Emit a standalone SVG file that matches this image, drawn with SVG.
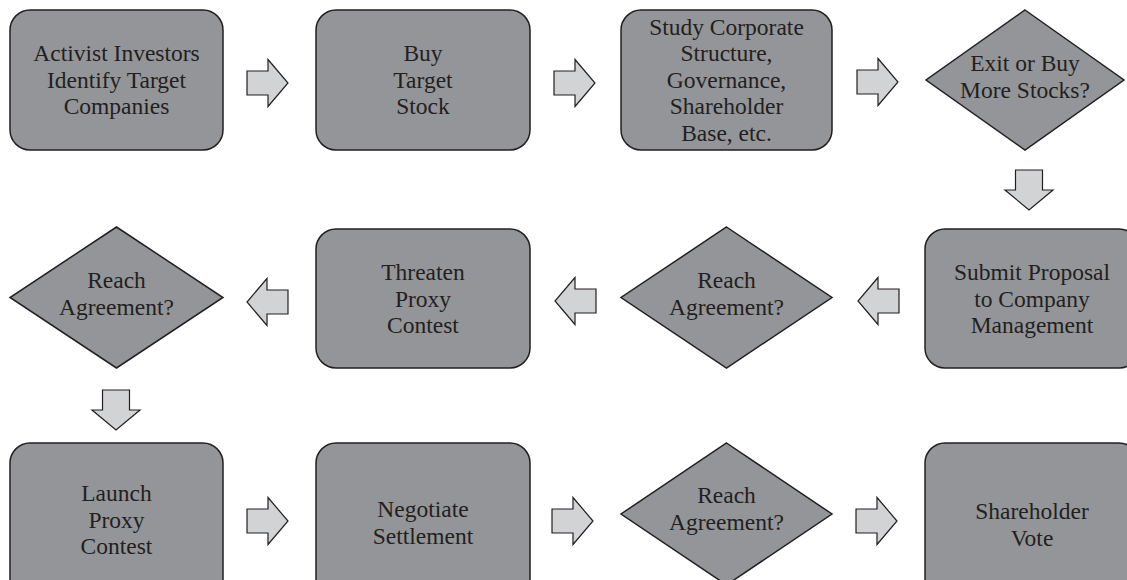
<svg xmlns="http://www.w3.org/2000/svg" width="1127" height="580" viewBox="0 0 1127 580">
<style>
.box{fill:#939598;stroke:#231f20;stroke-width:1.5}
.arr{fill:#d1d3d4;stroke:#231f20;stroke-width:1.2;stroke-linejoin:miter}
text{font-family:"Liberation Serif","Times New Roman",serif;font-size:23.5px;fill:#231f20;text-anchor:middle}
</style>
<defs>
<path id="arrowR" d="M0,-12 H21 V-23.5 L41,0 L21,23.5 V12 H0 Z"/>
<path id="arrowD" d="M-13.5,0 V20 H-24 L0,40 L24,20 H13.5 V0 Z"/>
</defs>
<rect width="1127" height="580" fill="#ffffff"/>
<g id="connectors">
<use href="#arrowR" class="arr" transform="translate(247,83)"/>
<use href="#arrowR" class="arr" transform="translate(554,83)"/>
<use href="#arrowR" class="arr" transform="translate(857,82)"/>
<use href="#arrowD" class="arr" transform="translate(1029,170)"/>
<use href="#arrowR" class="arr" transform="translate(899,301) scale(-1,1)"/>
<use href="#arrowR" class="arr" transform="translate(596,301) scale(-1,1)"/>
<use href="#arrowR" class="arr" transform="translate(288,302) scale(-1,1)"/>
<use href="#arrowD" class="arr" transform="translate(116,390)"/>
<use href="#arrowR" class="arr" transform="translate(247,521)"/>
<use href="#arrowR" class="arr" transform="translate(552,521)"/>
<use href="#arrowR" class="arr" transform="translate(856,521)"/>
</g>
<g id="n1"><rect class="box" x="10" y="10" width="213" height="140" rx="20"/>
<text x="116.5" y="61">Activist Investors</text><text x="116.5" y="87.5">Identify Target</text><text x="116.5" y="114">Companies</text></g>
<g id="n2"><rect class="box" x="316" y="10" width="214" height="140" rx="20"/>
<text x="423" y="61">Buy</text><text x="423" y="87.5">Target</text><text x="423" y="114">Stock</text></g>
<g id="n3"><rect class="box" x="621" y="10" width="211" height="140" rx="20"/>
<text x="726.5" y="34.5">Study Corporate</text><text x="726.5" y="61">Structure,</text><text x="726.5" y="87.5">Governance,</text><text x="726.5" y="114">Shareholder</text><text x="726.5" y="140.5">Base, etc.</text></g>
<g id="n4"><polygon class="box" points="1025,10 1124,80 1025,150 926,80"/>
<text x="1025" y="71">Exit or Buy</text><text x="1025" y="98">More Stocks?</text></g>
<g id="n5"><rect class="box" x="925" y="229" width="214" height="139" rx="20"/>
<text x="1032" y="280">Submit Proposal</text><text x="1032" y="306.5">to Company</text><text x="1032" y="333">Management</text></g>
<g id="n6"><polygon class="box" points="726.5,227 832,297.5 726.5,368 621,297.5"/>
<text x="726.5" y="288">Reach</text><text x="726.5" y="315">Agreement?</text></g>
<g id="n7"><rect class="box" x="316" y="229" width="214" height="139" rx="20"/>
<text x="423" y="280">Threaten</text><text x="423" y="306.5">Proxy</text><text x="423" y="333">Contest</text></g>
<g id="n8"><polygon class="box" points="116.5,227 223,297.5 116.5,368 10,297.5"/>
<text x="116.5" y="288">Reach</text><text x="116.5" y="315">Agreement?</text></g>
<g id="n9"><rect class="box" x="10" y="443" width="213" height="160" rx="20"/>
<text x="116.5" y="501">Launch</text><text x="116.5" y="527.5">Proxy</text><text x="116.5" y="554">Contest</text></g>
<g id="n10"><rect class="box" x="316" y="443" width="214" height="160" rx="20"/>
<text x="423" y="517">Negotiate</text><text x="423" y="543.5">Settlement</text></g>
<g id="n11"><polygon class="box" points="726.5,443 832,514 726.5,585 621,514"/>
<text x="726.5" y="503">Reach</text><text x="726.5" y="530">Agreement?</text></g>
<g id="n12"><rect class="box" x="925" y="443" width="214" height="160" rx="20"/>
<text x="1032" y="519">Shareholder</text><text x="1032" y="545.5">Vote</text></g>
</svg>
